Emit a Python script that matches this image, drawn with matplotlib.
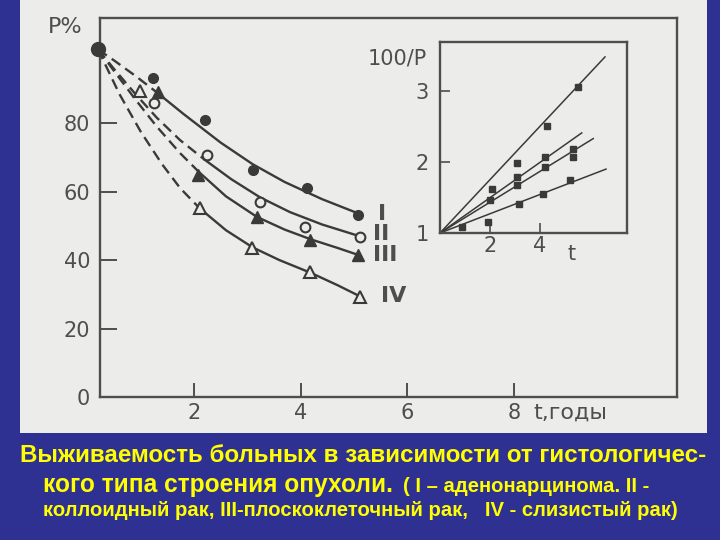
import matplotlib
matplotlib.use("Agg")
import matplotlib.pyplot as plt
from matplotlib.patches import Rectangle

# ---------------- data ----------------
t_start, p_start = 0.2, 101.5

# markers, main chart (t in years, P in %)
I_t = [1.23, 2.21, 3.11, 4.12, 5.08]
I_p = [93.1, 80.9, 66.3, 61.0, 53.1]
II_t = [1.25, 2.24, 3.24, 4.08, 5.11]
II_p = [86.0, 70.7, 57.0, 49.6, 46.7]
III_t = [1.32, 2.08, 3.18, 4.18, 5.08]
III_p = [89.0, 64.8, 52.6, 46.0, 41.5]
IV_t = [0.98, 2.11, 3.09, 4.18, 5.11]
IV_p = [89.5, 55.2, 43.5, 36.4, 29.2]

# fitted curves
I_line_t = [0.2, 0.5, 0.9, 1.3, 1.8, 2.5, 3.1, 3.7, 4.4, 5.1]
I_line_p = [101.5, 98.3, 93.8, 89.0, 82.7, 74.3, 68.0, 62.8, 57.8, 53.5]
II_line_t = [0.2, 0.5, 0.9, 1.3, 1.74, 2.2, 2.7, 3.24, 3.8, 4.4, 5.1]
II_line_p = [101.5, 95.8, 88.5, 81.6, 75.0, 69.3, 63.6, 58.3, 54.0, 50.4, 47.0]
III_line_t = [0.2, 0.5, 0.9, 1.3, 1.74, 2.1, 2.6, 3.18, 3.7, 4.2, 4.7, 5.08]
III_line_p = [101.5, 95.2, 86.9, 79.0, 71.2, 65.6, 58.6, 52.6, 48.9, 46.0, 43.5, 41.5]
IV_line_t = [0.2, 0.6, 1.0, 1.4, 1.74, 2.1, 2.6, 3.1, 3.6, 4.2, 4.7, 5.1]
IV_line_p = [101.5, 88.5, 77.5, 68.0, 61.0, 55.2, 48.7, 43.7, 40.0, 36.2, 32.6, 29.5]
dash_until = [1.3, 2.2, 2.1, 2.1]   # where the curves switch from dashed to solid

curve_labels = ["I", "II", "III", "IV"]
label_t = [5.45, 5.36, 5.36, 5.5]
label_p = [53.5, 47.5, 41.5, 29.5]

# inset: 100/P versus t
ins_line_end_t = [6.6, 5.67, 6.13, 6.64]
ins_line_end_y = [3.48, 2.41, 2.33, 1.90]
insA_t = [2.07, 3.09, 4.27, 5.53]
insA_y = [1.62, 1.98, 2.51, 3.05]
insB_t = [2.0, 3.09, 4.2, 5.33]
insB_y = [1.46, 1.79, 2.07, 2.19]
insC_t = [3.09, 4.2, 5.33]
insC_y = [1.68, 1.93, 2.07]
insD_t = [0.87, 1.93, 3.17, 4.13, 5.2]
insD_y = [1.08, 1.16, 1.41, 1.55, 1.74]

main_xticks = [2, 4, 6, 8]
main_yticks = [0, 20, 40, 60, 80]
ins_xticks = [2, 4]
ins_yticks = [1, 2, 3]

caption1 = "Выживаемость больных в зависимости от гистологичес-"
caption2a = "кого типа строения опухоли."
caption2b = "( I – аденонарцинома. II -"
caption3 = "коллоидный рак, III-плоскоклеточный рак,   IV - слизистый рак)"

# ---------------- styling ----------------
W, H = 720, 540
BLUE = "#2E3192"
PAPER = "#ECECEA"
INK = "#3a3a3a"
GREY = "#4e4e4e"
YEL = "#FFFF00"
plt.rcParams["font.family"] = ["Liberation Sans", "DejaVu Sans"]
CHART_FONT = ["DejaVu Sans"]

fig = plt.figure(figsize=(7.2, 5.4), dpi=100, facecolor=BLUE)

def fx(px):
    return px / W

def fy(py):
    return 1 - py / H

fig.patches.append(Rectangle((fx(20), fy(433)), fx(707) - fx(20), 1 - fy(433),
                             transform=fig.transFigure, facecolor=PAPER,
                             edgecolor="none", zorder=-10))

# ---------------- main axes ----------------
ax = fig.add_axes([fx(100), fy(397), fx(677) - fx(100), fy(18) - fy(397)])
ax.set_zorder(1)
ax.set_facecolor("none")
ax.set_xlim(0.236, 11.06)
ax.set_ylim(0, 110.7)
for s in ax.spines.values():
    s.set_color(GREY)
    s.set_linewidth(1.7)
ax.set_xticks(main_xticks)
ax.set_yticks(main_yticks)
ax.tick_params(axis="both", direction="in", colors=GREY, labelcolor=GREY,
               labelsize=15, width=1.4)
ax.tick_params(axis="y", length=12, pad=7)
ax.tick_params(axis="x", length=10, pad=4)
for lbl in ax.get_xticklabels() + ax.get_yticklabels():
    lbl.set_family(CHART_FONT)

lines = [(I_line_t, I_line_p), (II_line_t, II_line_p),
         (III_line_t, III_line_p), (IV_line_t, IV_line_p)]
for (lt, lp), cut in zip(lines, dash_until):
    dt = [a for a in lt if a <= cut]
    dp = [b for a, b in zip(lt, lp) if a <= cut]
    st = [a for a in lt if a >= dt[-1]]
    sp = [b for a, b in zip(lt, lp) if a >= dt[-1]]
    ax.plot(dt, dp, color=INK, lw=1.7, ls=(0, (4.5, 2.5)), zorder=2)
    ax.plot(st, sp, color=INK, lw=1.7, zorder=2)

ax.plot(I_t, I_p, "o", ms=7, color=INK, mec=INK, zorder=3)
ax.plot(II_t, II_p, "o", ms=7, mfc=PAPER, mec=INK, mew=1.5, zorder=3)
ax.plot(III_t, III_p, "^", ms=8, color=INK, mec=INK, zorder=3)
ax.plot(IV_t, IV_p, "^", ms=8, mfc=PAPER, mec=INK, mew=1.5, zorder=3)
ax.plot([t_start], [p_start], "o", ms=10, color=INK, zorder=3, clip_on=False)

for lab, lt, lp in zip(curve_labels, label_t, label_p):
    ax.text(lt, lp, lab, fontsize=16, color=GREY, ha="left", va="center",
            fontweight="bold", family=CHART_FONT)

fig.text(fx(65), fy(27), "P%", fontsize=16, color=GREY, ha="center",
         va="center", family=CHART_FONT)
fig.text(fx(533), fy(413), "t,годы", fontsize=16, color=GREY, ha="left",
         va="center", family=CHART_FONT)

# ---------------- inset ----------------
ins = fig.add_axes([fx(440), fy(233), fx(627) - fx(440), fy(42) - fy(233)])
ins.set_zorder(2)
ins.set_facecolor("none")
ins.set_xlim(0, 7.48)
ins.set_ylim(1, 3.69)
for s in ins.spines.values():
    s.set_color(GREY)
    s.set_linewidth(1.7)
ins.set_xticks(ins_xticks)
ins.set_yticks(ins_yticks)
ins.tick_params(axis="both", direction="in", colors=GREY, labelcolor=GREY,
                labelsize=15, width=1.2, length=7)
ins.tick_params(axis="y", pad=8)
ins.tick_params(axis="x", pad=2)
for lbl in ins.get_xticklabels() + ins.get_yticklabels():
    lbl.set_family(CHART_FONT)
for te, ye in zip(ins_line_end_t, ins_line_end_y):
    ins.plot([0, te], [1, ye], color=INK, lw=1.1)
for xs, ys in [(insA_t, insA_y), (insB_t, insB_y), (insC_t, insC_y), (insD_t, insD_y)]:
    ins.plot(xs, ys, "s", ms=4.5, color=INK)
ins.text(5.25, -0.06, "t", transform=ins.get_xaxis_transform(), fontsize=15,
         color=GREY, ha="center", va="top", family=CHART_FONT)
fig.text(fx(427), fy(59), "100/P", fontsize=15, color=GREY, ha="right",
         va="center", family=CHART_FONT)

# ---------------- caption (sized to the widths seen in the picture) ----------------
fig.canvas.draw()
renderer = fig.canvas.get_renderer()

def fitted(x0, x1, yc, s, size):
    t = fig.text(fx(x0), fy(yc), s, color=YEL, fontsize=size,
                 fontweight="bold", ha="left", va="center")
    w = t.get_window_extent(renderer=renderer).width
    t.set_fontsize(size * (x1 - x0) / w)
    return t

fitted(20, 708, 455, caption1, 17)
fitted(43, 393, 485, caption2a, 16)
fitted(403, 648, 486, caption2b, 13)
fitted(43, 678, 510, caption3, 13)

fig.savefig("out.png", dpi=100, facecolor=BLUE)
